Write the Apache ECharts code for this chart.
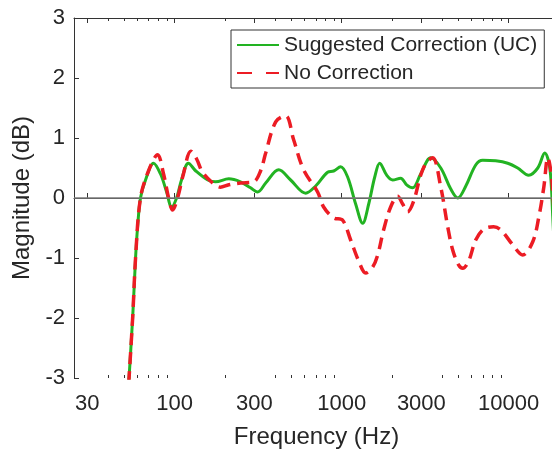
<!DOCTYPE html>
<html>
<head>
<meta charset="utf-8" />
<title>Magnitude</title>
<script src="https://cdn.jsdelivr.net/npm/echarts@6/dist/echarts.min.js"></script>
<style>
	body { margin: 0; padding: 0; overflow: hidden; background: #fff; }
	#main { width: 600px; height: 449px; }
</style>
</head>
<body>
<div id="main"></div>
<script type="text/javascript">
// frequency (Hz) / magnitude (dB)
var ucFreq = [52.3, 56.1, 58.4, 60.0, 62.5, 67, 74.8, 82.4, 89.6, 96, 102.8, 110, 121, 134, 158, 176, 211, 248, 285, 314, 351, 420, 495, 609, 699, 824, 896, 986, 1086, 1213, 1336, 1452, 1578, 1690, 1860, 2020, 2255, 2449, 2661, 2972, 3414, 3920, 4500, 4955, 5537, 6345, 6985, 8356, 9862, 11320, 13180, 14930, 16440, 17630, 18340, 18850];
var ucMag = [-3.4, -2, -1, -0.5, 0, 0.3, 0.58, 0.4, 0.1, -0.15, 0.0, 0.3, 0.58, 0.45, 0.3, 0.27, 0.32, 0.27, 0.17, 0.1, 0.25, 0.47, 0.3, 0.08, 0.2, 0.43, 0.45, 0.52, 0.35, -0.1, -0.42, -0.1, 0.35, 0.58, 0.38, 0.3, 0.33, 0.22, 0.17, 0.4, 0.67, 0.5, 0.15, 0.0, 0.2, 0.55, 0.63, 0.62, 0.58, 0.5, 0.38, 0.5, 0.75, 0.5, -0.3, -1];

var ncFreq = [52.3, 56.1, 58.4, 62.5, 69.8, 79.1, 85.9, 92.1, 97.3, 104.2, 113, 125, 135.5, 147, 169, 188, 211, 248, 297, 327, 351, 403, 462, 516, 592, 718, 780, 896, 1014, 1132, 1265, 1393, 1535, 1644, 1784, 1965, 2164, 2319, 2485, 2700, 2972, 3228, 3508, 3920, 4315, 4625, 5023, 5308, 5759, 6345, 7082, 8128, 8954, 10570, 12130, 13930, 15140, 16220, 17140, 18130, 19100];
var ncMag = [-3.4, -2, -1, 0, 0.45, 0.72, 0.4, 0.0, -0.2, 0.0, 0.4, 0.78, 0.65, 0.43, 0.25, 0.18, 0.22, 0.25, 0.27, 0.45, 0.75, 1.27, 1.37, 0.97, 0.47, 0.1, -0.15, -0.33, -0.37, -0.7, -1.05, -1.25, -1.15, -0.95, -0.53, -0.15, 0.03, -0.1, -0.23, -0.05, 0.38, 0.6, 0.67, 0.18, -0.48, -0.87, -1.12, -1.17, -1.05, -0.7, -0.52, -0.48, -0.53, -0.78, -0.95, -0.73, -0.32, 0.18, 0.67, 0.3, -0.8];

var majorTicks = [30, 100, 300, 1000, 3000, 10000];
var minorTicks = [40, 50, 60, 70, 80, 90, 200, 400, 500, 600, 700, 800, 900, 2000, 4000, 5000, 6000, 7000, 8000, 9000, 20000];
var fMin = 25, fMax = 20000;

var lg = function(v) { return Math.log10(v) };
function pairs(f, m) {
	var out = [];
	for (var i = 0; i < f.length; i++) out.push([lg(f[i]), m[i]]);
	return out;
}

var txt = '#262626';
var font = "'Liberation Sans', Arial, sans-serif";
var green = '#22b322', red = '#ec1c24';

function xAx(pos, ticks, len, showLine, showLabel) {
	return {
		type: 'value', position: pos, min: lg(fMin), max: lg(fMax),
		axisLine: { show: showLine, lineStyle: { color: '#333', width: 1 } },
		axisTick: { show: true, inside: true, length: len, customValues: ticks.map(lg), lineStyle: { color: '#333' } },
		axisLabel: showLabel ? {
			customValues: majorTicks.map(lg), color: txt, fontSize: 22, fontFamily: font, margin: 15,
			formatter: function(v) { return Math.round(Math.pow(10, v)) }
		} : { show: false },
		splitLine: { show: false }
	};
}

var mychart = echarts.init(document.getElementById('main'));
mychart.setOption({
	animation: false,
	grid: { left: 74, top: 18, bottom: 71, right: 41, containLabel: false, outerBoundsMode: 'none' },
	legend: {
		orient: 'vertical', left: 231, top: 30,
		data: [
			{ name: 'Suggested Correction (UC)' },
			{ name: 'No Correction', lineStyle: { type: [15, 14] } }
		],
		backgroundColor: '#fff', borderColor: '#333', borderWidth: 1,
		padding: [4, 7, 4, 5], itemWidth: 42, itemHeight: 14, itemGap: 6,
		itemStyle: { opacity: 0 },
		textStyle: { color: txt, fontSize: 21, fontFamily: font, lineHeight: 22 }
	},
	xAxis: [
		Object.assign(xAx('bottom', majorTicks, 5, true, true), {
			name: 'Frequency (Hz)', nameLocation: 'middle', nameGap: 47,
			nameTextStyle: { color: txt, fontSize: 24, fontFamily: font }
		}),
		xAx('bottom', minorTicks, 3, false, false),
		xAx('top', majorTicks, 5, true, false),
		xAx('top', minorTicks, 3, false, false)
	],
	yAxis: {
		type: 'value', min: -3, max: 3, interval: 1,
		name: 'Magnitude (dB)', nameLocation: 'middle', nameGap: 40,
		nameTextStyle: { color: txt, fontSize: 24, fontFamily: font },
		axisLine: { show: true, lineStyle: { color: '#333', width: 1 } },
		axisTick: { inside: true, length: 5, lineStyle: { color: '#333' } },
		axisLabel: { color: txt, fontSize: 22, fontFamily: font, margin: 9, padding: [6, 0, 0, 0] },
		splitLine: { show: false }
	},
	series: [
		{
			type: 'line', data: [], z: 1, silent: true,
			markLine: {
				symbol: 'none', silent: true, label: { show: false },
				lineStyle: { color: '#7a7a7a', width: 1.5, type: 'solid' },
				data: [{ yAxis: 0 }]
			}
		},
		{
			name: 'Suggested Correction (UC)', type: 'line', z: 3,
			data: pairs(ucFreq, ucMag), smooth: 0.35, symbol: 'none',
			lineStyle: { color: green, width: 3 }, itemStyle: { color: green }
		},
		{
			name: 'No Correction', type: 'line', z: 4,
			data: pairs(ncFreq, ncMag), smooth: 0.35, symbol: 'none',
			lineStyle: { color: red, width: 3.5, type: [12, 7] }, itemStyle: { color: red }
		}
	]
});
</script>
</body>
</html>
